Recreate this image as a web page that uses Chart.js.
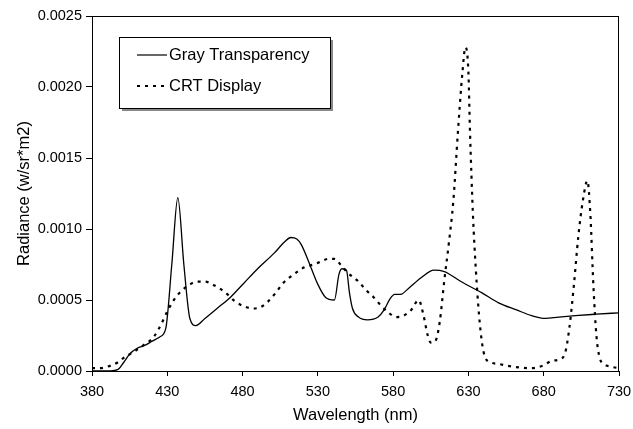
<!DOCTYPE html>
<html>
<head>
<meta charset="utf-8">
<script src="https://cdn.jsdelivr.net/npm/chart.js@4/dist/chart.umd.min.js"></script>
<style>
html,body{margin:0;padding:0;background:#fff;}
#wrap{position:relative;width:633px;height:429px;}
</style>
</head>
<body>
<div id="wrap"><canvas id="c" width="633" height="429"></canvas></div>
<script>
const xTitle = "Wavelength (nm)";
const yTitle = "Radiance (w/sr*m2)";
const seriesNames = ["Gray Transparency", "CRT Display"];

const grayNm = [380,390,397,401,405,410,415,420,425,429,433,437,441,445,449,455,463,472,481,490,501,508,512,516,519,525,530,535,541,544,546,549,551,553,557,563,570,574,578,581,585,590,599,607,614,625,639,650,662,672,681,690,701,715,730];
const grayVal = [0,0,0.00001,0.00006,0.00012,0.00016,0.00018,0.00021,0.00024,0.00030,0.00075,0.00122,0.00075,0.00037,0.00032,0.00037,0.00044,0.00052,0.00062,0.00072,0.00083,0.00091,0.00094,0.00093,0.00089,0.00074,0.00061,0.00052,0.00050,0.00068,0.00072,0.00071,0.00055,0.00044,0.00038,0.00036,0.00038,0.00043,0.00051,0.00054,0.00054,0.00058,0.00066,0.00071,0.00070,0.00063,0.00055,0.00048,0.00043,0.00039,0.00037,0.00038,0.00039,0.00040,0.00041];

const crtNm = [380,385,390,397,402,407,414,421,426,430,435,439,445,450,455,460,465,470,475,480,487,492,497,502,507,514,521,527,532,537,541,545,550,557,562,567,572,577,582,587,592,597,600,603,605,608,611,614,617,620,623,626,628,630,631,633,635,637,639,641,645,650,660,672,680,685,690,694,697,700,703,706,709,711,713,715,717,720,725,730];
const crtVal = [0.00002,0.00002,0.00003,0.00006,0.00010,0.00013,0.00018,0.00024,0.00033,0.00042,0.00051,0.00056,0.00061,0.00063,0.00063,0.00061,0.00058,0.00054,0.00049,0.00046,0.00044,0.00045,0.00049,0.00055,0.00062,0.00068,0.00073,0.00075,0.00077,0.00079,0.00079,0.00075,0.00069,0.00063,0.00057,0.00052,0.00046,0.00041,0.00038,0.00039,0.00043,0.00050,0.00040,0.00025,0.00020,0.00021,0.00035,0.00064,0.00090,0.00120,0.00168,0.00210,0.00228,0.00210,0.00170,0.00110,0.00070,0.00040,0.00020,0.00010,0.00006,0.00005,0.00003,0.00002,0.00004,0.00007,0.00008,0.00012,0.00030,0.00060,0.00095,0.00120,0.00134,0.00110,0.00060,0.00025,0.00010,0.00005,0.00003,0.00002];

const xMin = 380, xMax = 730, xStep = 50;
const yMin = 0, yMax = 0.0025, yStep = 0.0005;

const FONT = "'Liberation Sans', Arial, sans-serif";

function pts(xs, ys){ return xs.map((x,i)=>({x:x,y:ys[i]})); }

const frame = {
  id:'frame',
  afterDraw(chart){
    const ctx = chart.ctx, a = chart.chartArea;
    ctx.save();
    ctx.strokeStyle = '#000';
    ctx.lineWidth = 1;
    ctx.strokeRect(Math.round(a.left)+0.5, Math.round(a.top)+0.5, Math.round(a.right-a.left)-1, Math.round(a.bottom-a.top));
    // legend box
    const lx = a.left + 27, ly = a.top + 21, lw = 211, lh = 71;
    ctx.fillStyle = '#888';
    ctx.fillRect(lx+3, ly+3, lw, lh);
    ctx.fillStyle = '#fff';
    ctx.fillRect(lx, ly, lw, lh);
    ctx.strokeStyle = '#000';
    ctx.strokeRect(lx+0.5, ly+0.5, lw, lh);
    ctx.font = "16.5px " + FONT;
    ctx.fillStyle = '#000';
    ctx.textBaseline = 'middle';
    ctx.textAlign = 'left';
    ctx.lineWidth = 1.2;
    ctx.beginPath(); ctx.moveTo(lx+18, ly+18); ctx.lineTo(lx+48, ly+18); ctx.stroke();
    ctx.fillText(seriesNames[0], lx+50, ly+18);
    ctx.lineWidth = 2.2;
    ctx.setLineDash([3,5]);
    ctx.beginPath(); ctx.moveTo(lx+18, ly+49); ctx.lineTo(lx+48, ly+49); ctx.stroke();
    ctx.setLineDash([]);
    ctx.fillText(seriesNames[1], lx+50, ly+49);
    ctx.restore();
  }
};

new Chart(document.getElementById('c'), {
  type:'line',
  data:{
    datasets:[
      {label:seriesNames[0], data:pts(grayNm, grayVal), borderColor:'#000', borderWidth:1.3, pointRadius:0, cubicInterpolationMode:'monotone', fill:false},
      {label:seriesNames[1], data:pts(crtNm, crtVal), borderColor:'#000', borderWidth:2.2, borderDash:[3,5], pointRadius:0, cubicInterpolationMode:'monotone', fill:false}
    ]
  },
  options:{
    responsive:false,
    animation:false,
    layout:{padding:{left:0, right:14, top:16, bottom:0}},
    plugins:{legend:{display:false}, tooltip:{enabled:false}},
    scales:{
      x:{
        type:'linear', min:xMin, max:xMax,
        ticks:{stepSize:xStep, color:'#000', font:{family:FONT, size:14.5}, padding:7, maxRotation:0},
        grid:{display:true, drawOnChartArea:false, drawTicks:true, tickLength:5, color:'#000'},
        border:{display:true, color:'#000', width:1},
        title:{display:true, text:xTitle, color:'#000', font:{family:FONT, size:16.5}, padding:{top:4, bottom:4}},
        afterFit(s){ s.height = 58; s.paddingLeft = 0; s.paddingRight = 0; }
      },
      y:{
        type:'linear', min:yMin, max:yMax,
        ticks:{stepSize:yStep, color:'#000', font:{family:FONT, size:14.5}, padding:4, callback:v=>v.toFixed(4)},
        grid:{display:true, drawOnChartArea:false, drawTicks:true, tickLength:6, color:'#000'},
        border:{display:true, color:'#000', width:1},
        title:{display:true, text:yTitle, color:'#000', font:{family:FONT, size:16.5}, padding:{top:15, bottom:4}},
        afterFit(s){ s.width = 92; s.paddingTop = 0; s.paddingBottom = 0; }
      }
    }
  },
  plugins:[frame]
});
</script>
</body>
</html>
